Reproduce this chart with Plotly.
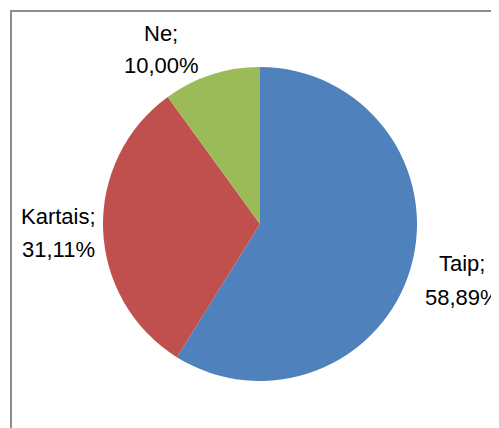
import plotly.graph_objects as go

categories = ["Taip", "Kartais", "Ne"]
values = [58.89, 31.11, 10.00]
colors = ["#4F81BD", "#C0504D", "#9BBB59"]

W, H = 499, 428
OFF = 8  # page body margin offset


def px(x):
    return (x - OFF) / W


def py(y):
    return 1 - (y - OFF) / H


cx0, cy0, r = 260, 224, 157

fig = go.Figure(go.Pie(
    labels=categories,
    values=values,
    sort=False,
    direction="clockwise",
    rotation=0,
    marker=dict(colors=colors, line=dict(width=0)),
    textinfo="none",
    hoverinfo="label+percent",
    showlegend=False,
    domain=dict(x=[px(cx0 - r), px(cx0 + r)], y=[py(cy0 + r), py(cy0 - r)]),
))

# label anchor positions (pixels: center x, first-line center y)
label_pos = {"Taip": (462, 264), "Kartais": (58, 216), "Ne": (161, 33)}
line_gap = 33

annotations = []
for cat, v in zip(categories, values):
    lx, ly = label_pos[cat]
    pct = f"{v:.2f}".replace(".", ",") + "%"
    for i, t in enumerate([cat + ";", pct]):
        annotations.append(dict(
            x=px(lx), y=py(ly + i * line_gap), xref="paper", yref="paper",
            text=t, showarrow=False, xanchor="center", yanchor="middle",
            font=dict(family="Liberation Sans", size=22, color="#000000"),
        ))

fig.update_layout(
    width=W, height=H,
    margin=dict(l=0, r=0, t=0, b=0),
    paper_bgcolor="white",
    plot_bgcolor="white",
    annotations=annotations,
    shapes=[dict(type="rect", xref="paper", yref="paper",
                 x0=px(11), x1=1.1, y0=-0.1, y1=py(11),
                 line=dict(color="#8C8C8C", width=2))],
)

fig.write_html("out.html")
